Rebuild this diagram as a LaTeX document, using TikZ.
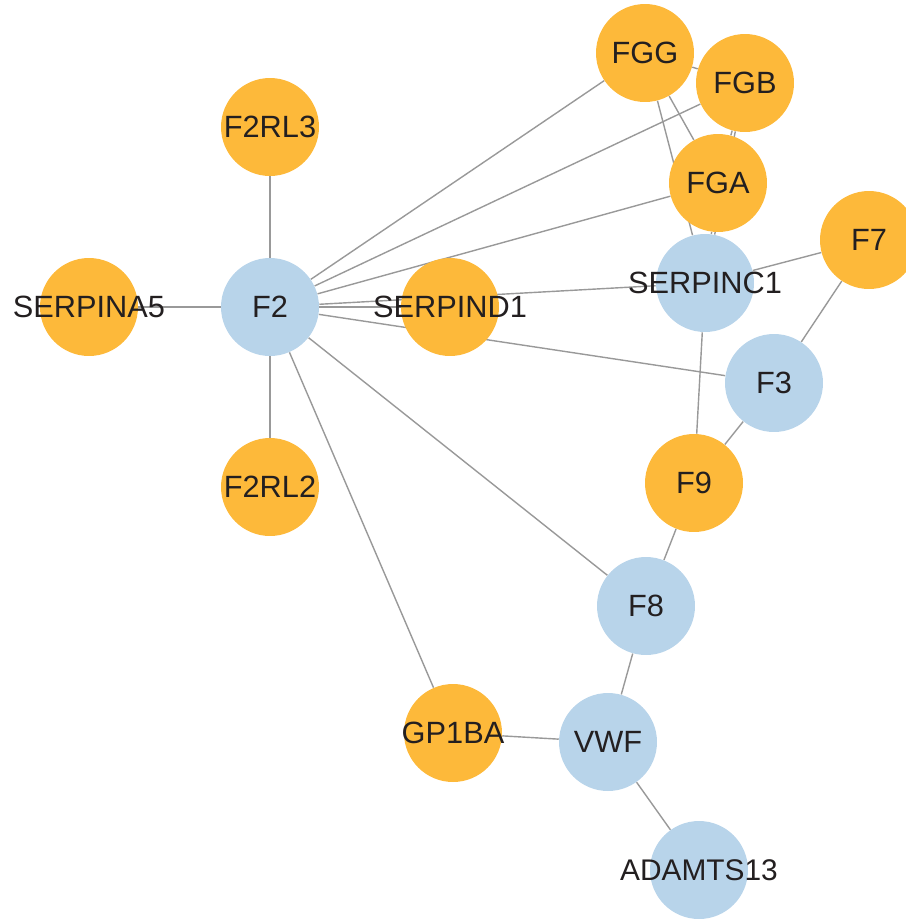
\documentclass[tikz,border=0pt]{standalone}
\usepackage{fontspec}
\setmainfont{Liberation Sans}
\usepackage{tikz}
\usetikzlibrary{backgrounds}
\definecolor{cyorange}{RGB}{253,185,58}
\definecolor{cyblue}{RGB}{184,212,234}
\definecolor{cyedge}{RGB}{153,153,153}
\definecolor{cytext}{RGB}{35,31,32}
\newcommand{\gn}[1]{\makebox[0pt]{#1}}
\tikzset{seed/.style={circle,fill=cyblue,inner sep=0pt,minimum size=1.96cm,text=cytext,font=\fontsize{17.5}{20}\selectfont},
nbr/.style={seed,fill=cyorange},
lnk/.style={draw=cyedge,line width=0.8pt}}

\begin{document}
\begin{tikzpicture}[x=0.02cm,y=-0.02cm]
    \useasboundingbox (0,0) rectangle (906,920);
    \node[nbr] (FGG) at (645,53) {\gn{FGG}};
    \node[nbr] (FGB) at (745,83) {\gn{FGB}};
    \node[nbr] (FGA) at (718,183) {\gn{FGA}};
    \node[nbr] (F2RL3) at (270,127) {\gn{F2RL3}};
    \node[nbr] (F7) at (869,240) {\gn{F7}};
    \node[seed] (SERPINC1) at (705,283) {\gn{SERPINC1}};
    \node[nbr] (SERPINA5) at (89,307) {\gn{SERPINA5}};
    \node[seed] (F2) at (270,307) {\gn{F2}};
    \node[nbr] (SERPIND1) at (450,307) {\gn{SERPIND1}};
    \node[seed] (F3) at (774,383) {\gn{F3}};
    \node[nbr] (F9) at (694,483) {\gn{F9}};
    \node[nbr] (F2RL2) at (270,487) {\gn{F2RL2}};
    \node[seed] (F8) at (646,606) {\gn{F8}};
    \node[nbr] (GP1BA) at (453,733) {\gn{GP1BA}};
    \node[seed] (VWF) at (608,742) {\gn{VWF}};
    \node[seed] (ADAMTS13) at (699,870) {\gn{\fontsize{17}{20}\selectfont ADAMTS13}};
    \begin{pgfonlayer}{background}
    \draw[lnk] (F2) edge (F2RL3) edge (SERPINA5) edge (F2RL2) edge (FGG) edge (FGB) edge (FGA)
    edge (SERPINC1) edge (SERPIND1) edge (F3) edge (F8) edge (GP1BA)
    (FGG) edge (FGB) edge (FGA) edge (SERPINC1)
    (FGB) edge (FGA) edge (SERPINC1)
    (FGA) edge (SERPINC1)
    (SERPINC1) edge (F7) edge (F9)
    (F3) edge (F7) edge (F9)
    (F8) edge (F9) edge (VWF)
    (VWF) edge (GP1BA) edge (ADAMTS13)
    ;
    \end{pgfonlayer}
    \end{tikzpicture}
\end{document}
